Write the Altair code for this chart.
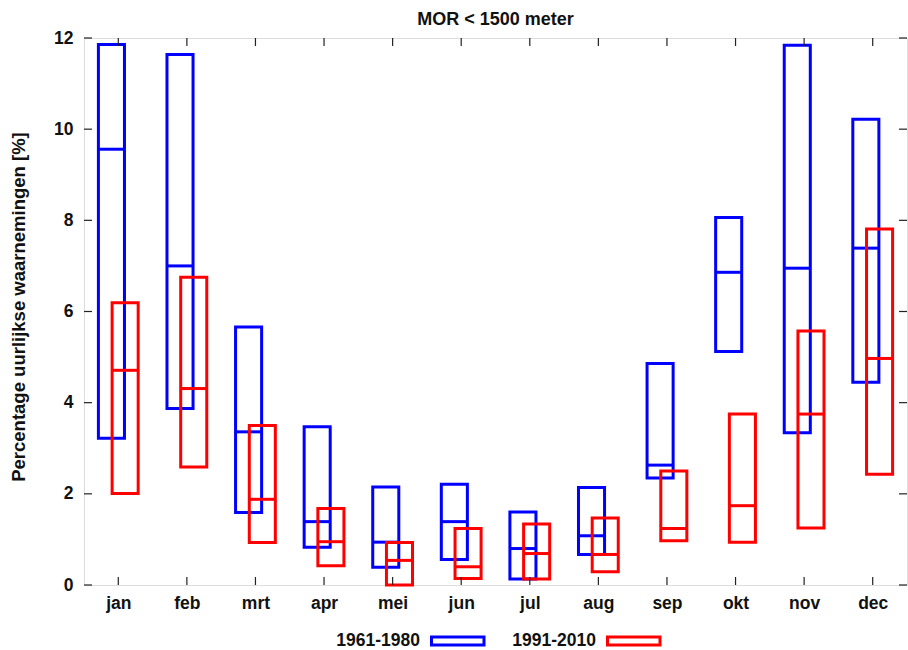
import altair as alt
import pandas as pd

# Monthly share of hourly observations with MOR < 1500 m, per period:
# lower bound, median and upper bound of each box.
title_text = "MOR < 1500 meter"
months = ["jan", "feb", "mrt", "apr", "mei", "jun", "jul", "aug", "sep", "okt", "nov", "dec"]
periods = ["1961-1980", "1991-2010"]
colors = ["#0000ff", "#ff0000"]

low_1961 = [3.22, 3.87, 1.59, 0.83, 0.39, 0.56, 0.13, 0.67, 2.35, 5.12, 3.34, 4.45]
med_1961 = [9.56, 7.00, 3.36, 1.39, 0.94, 1.39, 0.80, 1.08, 2.63, 6.86, 6.95, 7.39]
high_1961 = [11.86, 11.64, 5.66, 3.47, 2.15, 2.21, 1.60, 2.14, 4.86, 8.06, 11.84, 10.22]

low_1991 = [2.01, 2.59, 0.93, 0.42, 0.00, 0.14, 0.13, 0.29, 0.97, 0.94, 1.25, 2.43]
med_1991 = [4.71, 4.31, 1.88, 0.95, 0.54, 0.40, 0.69, 0.67, 1.24, 1.74, 3.75, 4.97]
high_1991 = [6.19, 6.75, 3.50, 1.68, 0.93, 1.24, 1.34, 1.47, 2.50, 3.75, 5.57, 7.81]

y_ticks = [0, 2, 4, 6, 8, 10, 12]

rows = []
for period, lo, md, hi in [
    (periods[0], low_1961, med_1961, high_1961),
    (periods[1], low_1991, med_1991, high_1991),
]:
    for i, m in enumerate(months):
        rows.append({"month": m, "idx": i + 1, "period": period,
                     "low": lo[i], "med": md[i], "high": hi[i]})
df = pd.DataFrame(rows)
month_df = pd.DataFrame({"idx": list(range(1, len(months) + 1)), "month": months})
ytick_df = pd.DataFrame({"v": y_ticks})

W, H = 823, 547
FONT = "Liberation Sans"
TEXT_COLOR = "#111111"
AXIS_COLOR = "#222222"
TICK = 8
LABEL_SIZE = 17.5

month_js = "[" + ",".join(f"'{m}'" for m in months) + "]"

x_scale = alt.Scale(domain=[0.5, 12.5], nice=False, zero=False)
y_scale = alt.Scale(domain=[0, 12], nice=False, zero=False)

x_axis = alt.Axis(values=list(range(1, 13)), labelExpr=f"{month_js}[datum.value - 1]",
                  title=None, grid=False, domain=False, ticks=False,
                  labelPadding=9, labelFont=FONT, labelFontSize=LABEL_SIZE,
                  labelFontWeight="bold", labelColor=TEXT_COLOR)
y_axis = alt.Axis(values=y_ticks, title="Percentage uurlijkse waarnemingen [%]",
                  grid=False, domain=False, ticks=False, labelPadding=11,
                  labelFont=FONT, labelFontSize=LABEL_SIZE, labelFontWeight="bold",
                  labelColor=TEXT_COLOR, titleFont=FONT, titleFontSize=18.5,
                  titleFontWeight="bold", titleColor=TEXT_COLOR,
                  titleX=-66, titleY=H / 2 - 5, titleBaseline="middle")

# box geometry in month units: side-by-side offset and half width
SHIFT = 0.1
HALF = 0.19

base = alt.Chart(df).transform_calculate(
    xc=f"datum.idx + (datum.period == '{periods[0]}' ? -{SHIFT} : {SHIFT})"
).transform_calculate(
    x1=f"datum.xc - {HALF}", x2=f"datum.xc + {HALF}"
)

layers = []
for p, c in zip(periods, colors):
    sub = base.transform_filter(alt.datum.period == p)
    boxes = sub.mark_rect(fillOpacity=0, stroke=c, strokeWidth=3).encode(
        x=alt.X("x1:Q", scale=x_scale, axis=x_axis),
        x2="x2:Q",
        y=alt.Y("low:Q", scale=y_scale, axis=y_axis),
        y2="high:Q",
    )
    medians = sub.mark_rule(stroke=c, strokeWidth=3).encode(
        x=alt.X("x1:Q", scale=x_scale),
        x2="x2:Q",
        y=alt.Y("med:Q", scale=y_scale),
    )
    layers += [boxes, medians]

# inward tick marks on all four sides of the frame
tick_style = dict(stroke=AXIS_COLOR, strokeWidth=1.2)
xt = alt.Chart(month_df)
bottom_ticks = xt.mark_rule(**tick_style).encode(
    x=alt.X("idx:Q", scale=x_scale), y=alt.value(H), y2=alt.value(H - TICK))
top_ticks = xt.mark_rule(**tick_style).encode(
    x=alt.X("idx:Q", scale=x_scale), y=alt.value(0), y2=alt.value(TICK))
yt = alt.Chart(ytick_df)
left_ticks = yt.mark_rule(**tick_style).encode(
    y=alt.Y("v:Q", scale=y_scale), x=alt.value(0), x2=alt.value(TICK))
right_ticks = yt.mark_rule(**tick_style).encode(
    y=alt.Y("v:Q", scale=y_scale), x=alt.value(W), x2=alt.value(W - TICK))

# chart title, centred above the frame
title_mark = alt.Chart(pd.DataFrame({"t": [title_text]})).mark_text(
    align="center", baseline="alphabetic", font=FONT, fontSize=18,
    fontWeight="bold", color=TEXT_COLOR
).encode(text="t:N", x=alt.value(W / 2), y=alt.value(-13))

# legend below the plot: label text followed by an open box sample
legend_layers = []
legend_text_right = [336, 512]
legend_box = [(347.5, 400), (523.5, 576)]
LEG_Y = 603
for p, c, tx, (bx1, bx2) in zip(periods, colors, legend_text_right, legend_box):
    ld = alt.Chart(pd.DataFrame({"period": [p]}))
    legend_layers.append(
        ld.mark_text(align="right", baseline="middle", font=FONT, fontSize=LABEL_SIZE,
                     fontWeight="bold", color=TEXT_COLOR).encode(
            text="period:N", x=alt.value(tx), y=alt.value(LEG_Y))
    )
    legend_layers.append(
        ld.mark_rect(fillOpacity=0, stroke=c, strokeWidth=3).encode(
            x=alt.value(bx1), x2=alt.value(bx2),
            y=alt.value(LEG_Y - 4), y2=alt.value(LEG_Y + 4))
    )

chart = alt.layer(
    *layers, bottom_ticks, top_ticks, left_ticks, right_ticks, title_mark, *legend_layers
).properties(
    width=W,
    height=H,
    autosize=alt.AutoSizeParams(type="none"),
    padding={"left": 84, "top": 38, "right": 1, "bottom": 65},
).configure_view(
    stroke=AXIS_COLOR, strokeWidth=1.5
).configure(background="white")

chart.save("out.html", embed_options={"renderer": "svg", "actions": False})
